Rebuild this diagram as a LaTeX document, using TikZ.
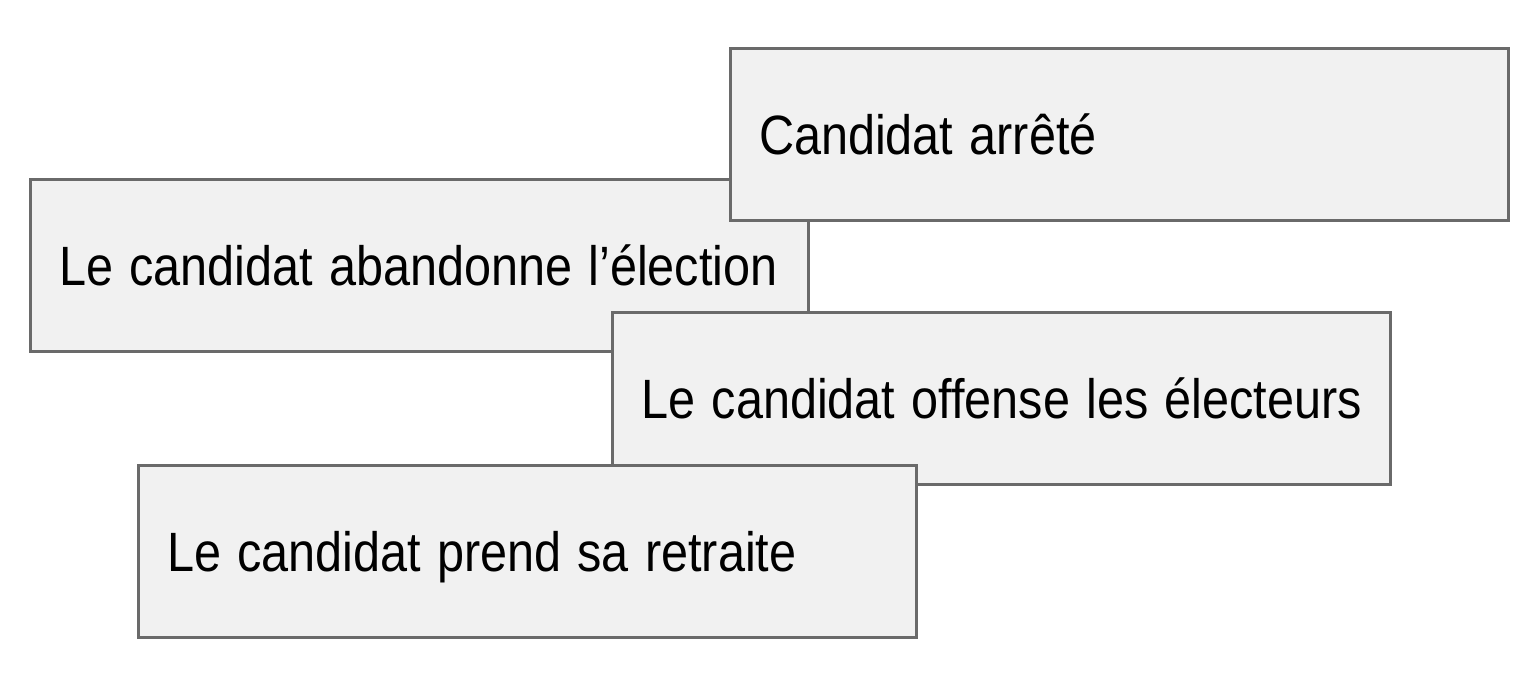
\documentclass[tikz,border=0pt]{standalone}
\usepackage{fontspec}
\setmainfont{Liberation Sans}
\usepackage{graphicx}
\usepackage{tikz}
\usetikzlibrary{positioning}
\definecolor{boxfill}{HTML}{F1F1F1}
\definecolor{boxline}{HTML}{6A6A6A}
% narrow, tall lettering as in the slide
\newcommand{\tallword}[1]{\scalebox{1}[1.14]{#1}}
\tikzset{
    eventbox/.style = {rectangle, draw=boxline, fill=boxfill, line width=1.5pt,
                        minimum width=389pt, minimum height=86pt, text width=360pt,
                        inner xsep=14.5pt, text height=20pt, text depth=0pt, align=left,
                        font=\fontsize{24.3}{29}\selectfont}
}
\begin{document}
\begin{tikzpicture}[x=0.5pt, y=-0.5pt]
		\useasboundingbox (0,0) rectangle (1521,688);
		\node (abandon) [eventbox] at (419,266) {\tallword{Le candidat abandonne l’élection}};
		\node (arrete) [eventbox] at (1119,134.5) {\tallword{Candidat arrêté}};
		\node (offense) [eventbox] at (1001.5,399) {\tallword{Le candidat offense les électeurs}};
		\node (retraite) [eventbox] at (527,552) {\tallword{Le candidat prend sa retraite}};
	\end{tikzpicture}
\end{document}
